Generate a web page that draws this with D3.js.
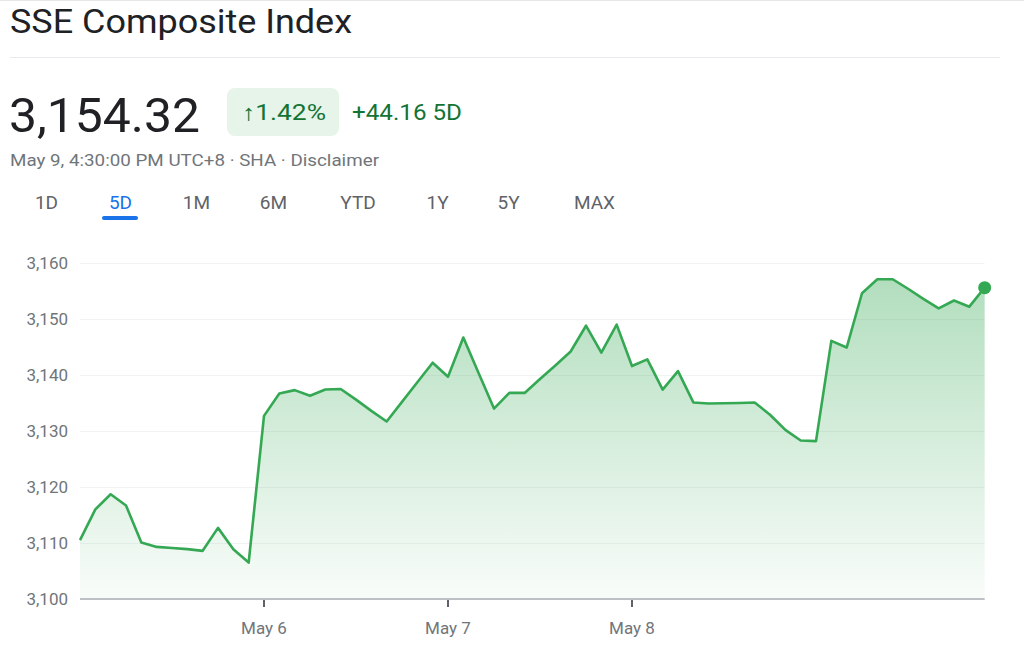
<!DOCTYPE html>
<html>
<head>
<meta charset="utf-8">
<script src="https://cdn.jsdelivr.net/npm/d3@7"></script>
<style>
  html, body { margin: 0; padding: 0; background: #fff; }
  svg { display: block; font-family: Roboto, "Noto Sans", Arial, sans-serif; }
</style>
</head>
<body>
<svg id="chart" width="1024" height="647"></svg>
<script>
// ---------- data ----------
const title = "SSE Composite Index";
const lastPrice = "3,154.32";
const changePct = "1.42%";
const changeAbs = "+44.16 5D";
const subtitle = "May 9, 4:30:00 PM UTC+8 · SHA · Disclaimer";
const ranges = ["1D", "5D", "1M", "6M", "YTD", "1Y", "5Y", "MAX"];
const activeRange = "5D";
const days = ["Apr 30", "May 6", "May 7", "May 8", "May 9"];
const pointsPerDay = 12;
const dayTickLabels = ["May 6", "May 7", "May 8"];
const yTicks = [3100, 3110, 3120, 3130, 3140, 3150, 3160];
const prices = [
  3110.5, 3116.0, 3118.7, 3116.7, 3110.1, 3109.3, 3109.1, 3108.9, 3108.6, 3112.7, 3108.9, 3106.5,
  3132.7, 3136.7, 3137.3, 3136.3, 3137.4, 3137.5, 3135.6, 3133.6, 3131.7, 3135.2, 3138.7, 3142.2,
  3139.7, 3146.7, 3140.3, 3134.0, 3136.8, 3136.8, 3139.3, 3141.7, 3144.2, 3148.8, 3144.0, 3149.0,
  3141.6, 3142.8, 3137.4, 3140.7, 3135.1, 3134.9, 3134.95, 3135.0, 3135.1, 3132.9, 3130.2, 3128.3,
  3128.2, 3146.1, 3144.9, 3154.6, 3157.1, 3157.1, 3155.4, 3153.6, 3151.9, 3153.3, 3152.2, 3155.6
];

// ---------- drawing ----------
const svg = d3.select("#chart");
const green = "#34a853", darkGreen = "#137333", grey = "#70757a", tabGrey = "#5f6368", blue = "#1a73e8";

svg.append("line").attr("x1", 0).attr("x2", 1024).attr("y1", 0.5).attr("y2", 0.5)
  .attr("stroke", "#e6e6e6");

// header
svg.append("text").attr("x", 10).attr("y", 33).attr("font-size", 33)
  .attr("textLength", 342).attr("lengthAdjust", "spacingAndGlyphs")
  .attr("fill", "#202124").text(title);
svg.append("line").attr("x1", 10).attr("x2", 1000).attr("y1", 57.5).attr("y2", 57.5)
  .attr("stroke", "#e8eaed");
svg.append("text").attr("x", 9).attr("y", 132).attr("font-size", 49)
  .attr("textLength", 191).attr("lengthAdjust", "spacingAndGlyphs")
  .attr("fill", "#202124").text(lastPrice);
svg.append("rect").attr("x", 227).attr("y", 88).attr("width", 112).attr("height", 48)
  .attr("rx", 8).attr("fill", "#e6f4ea");
svg.append("text").attr("x", 242).attr("y", 120)
  .attr("font-size", 22).attr("textLength", 84).attr("lengthAdjust", "spacingAndGlyphs")
  .attr("fill", darkGreen).text("\u2191" + changePct);
svg.append("text").attr("x", 352).attr("y", 120).attr("font-size", 22)
  .attr("textLength", 110).attr("lengthAdjust", "spacingAndGlyphs")
  .attr("fill", darkGreen).text(changeAbs);
svg.append("text").attr("x", 10).attr("y", 166).attr("font-size", 17)
  .attr("textLength", 369).attr("lengthAdjust", "spacingAndGlyphs")
  .attr("fill", grey).text(subtitle);

const tabX = [46.5, 120.5, 196.5, 273.5, 358, 437.5, 508.5, 594.5];
svg.append("g").selectAll("text").data(ranges).join("text")
  .attr("x", (d, i) => tabX[i]).attr("y", 209).attr("text-anchor", "middle")
  .attr("font-size", 19).attr("font-weight", 400)
  .attr("fill", d => d === activeRange ? blue : tabGrey).text(d => d);
svg.append("rect").attr("x", 102).attr("y", 216).attr("width", 36).attr("height", 4)
  .attr("rx", 2).attr("fill", blue);

// chart
const n = days.length * pointsPerDay;
const x = d3.scaleLinear().domain([0, n]).range([80, 1000]);
const y = d3.scaleLinear().domain([3100, 3160]).range([599, 263]);
const x0 = 80, x1 = x(n - 1);

const defs = svg.append("defs");
const grad = defs.append("linearGradient").attr("id", "fillGrad")
  .attr("gradientUnits", "userSpaceOnUse").attr("x1", 0).attr("x2", 0)
  .attr("y1", y(3157)).attr("y2", y(3100));
grad.append("stop").attr("offset", 0).attr("stop-color", green).attr("stop-opacity", 0.38);
grad.append("stop").attr("offset", 1).attr("stop-color", green).attr("stop-opacity", 0.03);

// grid lines
svg.append("g").selectAll("line").data(yTicks.filter(v => v !== 3100)).join("line")
  .attr("x1", x0).attr("x2", x1).attr("y1", d => y(d) + 0.5).attr("y2", d => y(d) + 0.5)
  .attr("stroke", "#f1f3f4").attr("stroke-width", 1);

// y labels
svg.append("g").selectAll("text").data(yTicks).join("text")
  .attr("x", 68).attr("y", d => y(d) + 6).attr("text-anchor", "end")
  .attr("font-size", 17).attr("fill", grey).text(d => d3.format(",")(d));

// area + line
const area = d3.area().x((d, i) => x(i)).y0(y(3100)).y1(d => y(d));
const line = d3.line().x((d, i) => x(i)).y(d => y(d));
svg.append("path").datum(prices).attr("d", area).attr("fill", "url(#fillGrad)");

// baseline axis
svg.append("line").attr("x1", x0).attr("x2", x1).attr("y1", y(3100)).attr("y2", y(3100))
  .attr("stroke", "#bdc1c6").attr("stroke-width", 2);
const tickIdx = dayTickLabels.map((d, i) => (i + 1) * pointsPerDay);
svg.append("g").selectAll("line").data(tickIdx).join("line")
  .attr("x1", d => x(d)).attr("x2", d => x(d)).attr("y1", 600).attr("y2", 607)
  .attr("stroke", "#5f6368").attr("stroke-width", 2);
svg.append("g").selectAll("text").data(dayTickLabels).join("text")
  .attr("x", (d, i) => x(tickIdx[i])).attr("y", 634).attr("text-anchor", "middle")
  .attr("font-size", 17).attr("fill", grey).text(d => d);

svg.append("path").datum(prices).attr("d", line).attr("fill", "none")
  .attr("stroke", green).attr("stroke-width", 2.6).attr("stroke-linejoin", "round");
svg.append("circle").attr("cx", x(n - 1)).attr("cy", y(prices[n - 1])).attr("r", 6.5)
  .attr("fill", green);
</script>
</body>
</html>
